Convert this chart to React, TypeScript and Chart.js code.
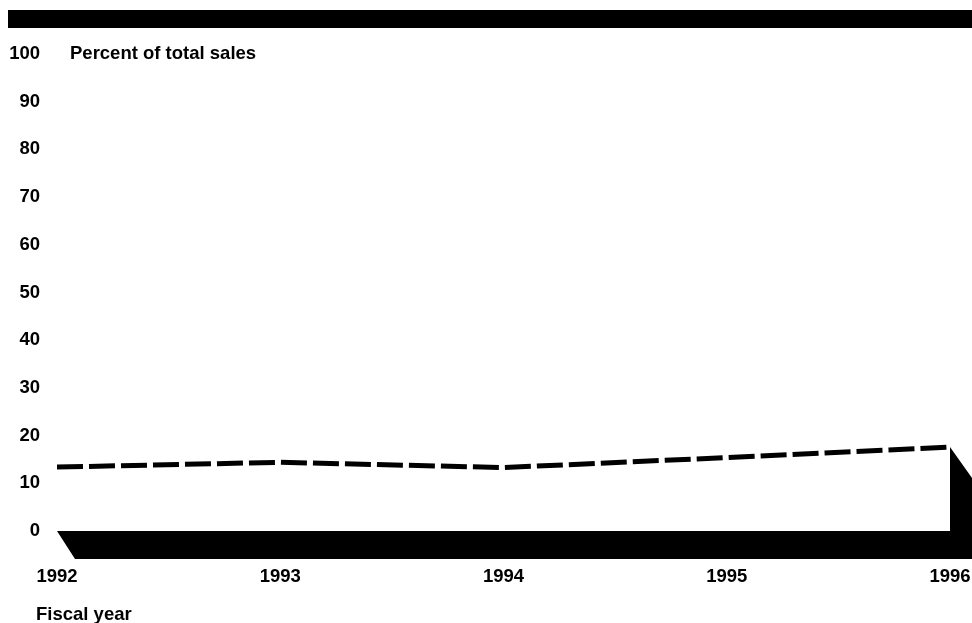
import React, { useEffect, useRef } from "react";
import { Chart, registerables } from "chart.js";

Chart.register(...registerables);

const years = ["1992", "1993", "1994", "1995", "1996"];
const shareOfSales = [13.4, 14.4, 13.3, 15.4, 17.6];
const yMin = 0;
const yMax = 100;
const yStep = 10;
const yAxisTitle = "Percent of total sales";
const xAxisTitle = "Fiscal year";

const FONT = "'Liberation Sans', Arial, sans-serif";
const FONT_SIZE = 18.5;

const decorPlugin = {
  id: "decor",
  beforeDatasetsDraw(chart: any) {
    const { ctx } = chart;
    const xs = chart.scales.x;
    const ys = chart.scales.y;
    const x0 = xs.getPixelForValue(0);
    const xN = xs.getPixelForValue(years.length - 1);
    const yZero = ys.getPixelForValue(0);
    const yLast = ys.getPixelForValue(shareOfSales[shareOfSales.length - 1]);
    const depth = 28;
    ctx.save();
    ctx.fillStyle = "#000";
    ctx.beginPath();
    ctx.moveTo(x0, yZero);
    ctx.lineTo(xN, yZero);
    ctx.lineTo(xN, yLast);
    ctx.lineTo(xN + 22, yLast + 31);
    ctx.lineTo(xN + 22, yZero + depth);
    ctx.lineTo(x0 + 18, yZero + depth);
    ctx.closePath();
    ctx.fill();
    ctx.restore();
  },
  afterDraw(chart: any) {
    const { ctx, width, chartArea } = chart;
    ctx.save();
    ctx.fillStyle = "#000";
    ctx.fillRect(0, 2, width, 18);
    ctx.font = `bold ${FONT_SIZE}px ${FONT}`;
    ctx.textBaseline = "middle";
    ctx.textAlign = "left";
    ctx.fillText(yAxisTitle, 62, chartArea.top);
    ctx.fillText(xAxisTitle, 28, 607);
    ctx.restore();
  },
};

export default function App() {
  const ref = useRef<HTMLCanvasElement | null>(null);
  useEffect(() => {
    if (!ref.current) return;
    const chart = new Chart(ref.current, {
      type: "line",
      data: {
        labels: years,
        datasets: [
          {
            data: shareOfSales,
            borderColor: "#000",
            borderWidth: 5,
            borderDash: [26, 6],
            pointRadius: 0,
            tension: 0,
            fill: false,
          },
        ],
      },
      plugins: [decorPlugin],
      options: {
        animation: false,
        responsive: true,
        maintainAspectRatio: false,
        layout: { padding: { top: 46, right: 22, bottom: 0, left: 0 } },
        plugins: {
          legend: { display: false },
          tooltip: { enabled: false },
        },
        scales: {
          x: {
            type: "category",
            offset: false,
            grid: { display: false, drawTicks: true, tickLength: 35 },
            border: { display: false },
            ticks: {
              color: "#000",
              font: { family: FONT, size: FONT_SIZE, weight: "bold" },
              padding: 0,
              maxRotation: 0,
              autoSkip: false,
            },
            afterFit(scale: any) {
              scale.height = 92;
              scale.paddingLeft = 0;
              scale.paddingRight = 0;
            },
          },
          y: {
            min: yMin,
            max: yMax,
            grid: { display: false, drawTicks: false },
            border: { display: false },
            ticks: {
              stepSize: yStep,
              color: "#000",
              font: { family: FONT, size: FONT_SIZE, weight: "bold" },
              padding: 17,
            },
            afterFit(scale: any) {
              scale.width = 49;
              scale.paddingTop = 0;
              scale.paddingBottom = 0;
            },
          },
        },
      },
    });
    return () => chart.destroy();
  }, []);
  return (
    <div style={{ position: "absolute", left: 8, top: 8, width: 964, height: 615 }}>
      <canvas ref={ref} />
    </div>
  );
}
